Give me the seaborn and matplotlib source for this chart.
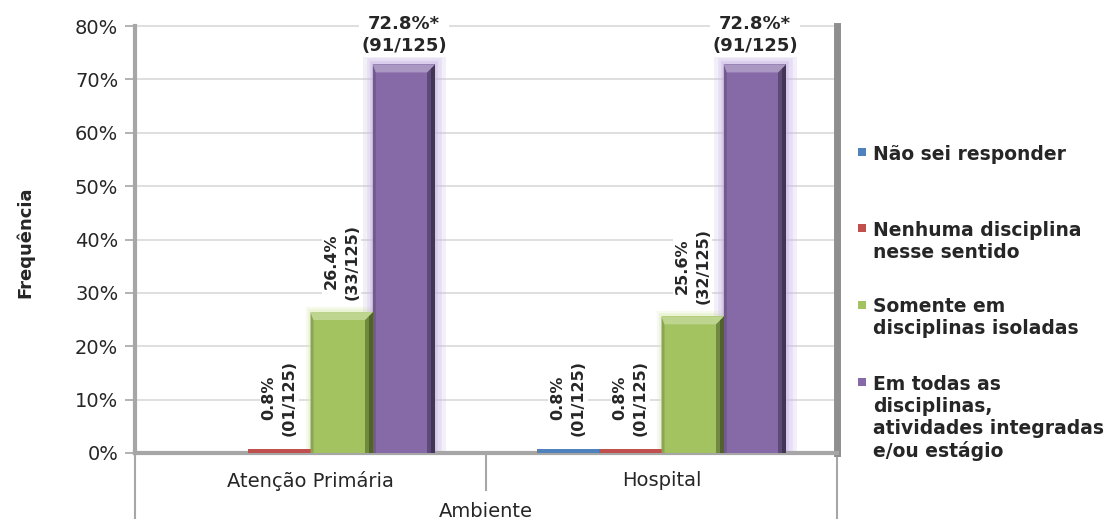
import numpy as np
import pandas as pd
import matplotlib
matplotlib.use("Agg")
import matplotlib.pyplot as plt
import matplotlib.colors as mcolors
from matplotlib.patches import Rectangle, Polygon
import seaborn as sns

# --- data -------------------------------------------------------------
ambientes = ["Atenção Primária", "Hospital"]
respostas = [
    "Não sei responder",
    "Nenhuma disciplina nesse sentido",
    "Somente em disciplinas isoladas",
    "Em todas as disciplinas, atividades integradas e/ou estágio",
]
rotulos_legenda = [
    "Não sei responder",
    "Nenhuma disciplina\nnesse sentido",
    "Somente em\ndisciplinas isoladas",
    "Em todas as\ndisciplinas,\natividades integradas\ne/ou estágio",
]
pct_atencao = [0.0, 0.8, 26.4, 72.8]
pct_hospital = [0.8, 0.8, 25.6, 72.8]
n_atencao = [0, 1, 33, 91]
n_hospital = [1, 1, 32, 91]
total = 125
marca = ["", "", "", "*"]
yticks = [0, 10, 20, 30, 40, 50, 60, 70, 80]
ytick_labels = [f"{v}%" for v in yticks]

# --- style ------------------------------------------------------------
cores = ["#4F81BD", "#C0504D", "#A2C35F", "#866AA8"]
brilho = [None, None, "#DCEDB4", "#CBB8E6"]
camadas_brilho = [None, None, [(8, 0.25), (4, 0.4)], [(15, 0.22), (9, 0.3), (4, 0.45)]]
cinza_eixo = "#A6A6A6"
cor_texto = "#262626"


def mix(c, alvo, t):
    a = np.array(mcolors.to_rgb(c))
    b = np.array(mcolors.to_rgb(alvo))
    return tuple(a * (1 - t) + b * t)


sns.set_theme(style="white")
plt.rcParams["font.family"] = ["DejaVu Sans"]

W, H = 1116, 519
fig = plt.figure(figsize=(W / 100, H / 100), dpi=100)
fig.patch.set_facecolor("white")

x_esq, x_dir = 135, 837
y_zero, y_80 = 453, 26
ymax = 80.3
h_px = (y_zero - y_80) * ymax / 80
ax = fig.add_axes([x_esq / W, 1 - y_zero / H, (x_dir - x_esq) / W, h_px / H])

df = pd.DataFrame({
    "Ambiente": np.repeat(ambientes, len(respostas)),
    "Resposta": respostas * len(ambientes),
    "Percentual": pct_atencao + pct_hospital,
})

sns.barplot(
    data=df, x="Ambiente", y="Percentual", hue="Resposta",
    order=ambientes, hue_order=respostas, palette=cores, saturation=1,
    width=0.71, errorbar=None, legend=False, linewidth=0, ax=ax, zorder=3,
)
ax.set_xlim(-0.5, 1.5)
ax.set_ylim(0, ymax)


def px_para_dados(dx, dy):
    inv = ax.transData.inverted()
    p0 = inv.transform((0, 0))
    p1 = inv.transform((dx, dy))
    return p1[0] - p0[0], p1[1] - p0[1]


pct_por_ambiente = [pct_atencao, pct_hospital]
n_por_ambiente = [n_atencao, n_hospital]

for i, cont in enumerate(ax.containers):
    cor = cores[i]
    for bar in cont:
        bx, bw = bar.get_x(), bar.get_width()
        j = int(round(bx + bw / 2))
        v = pct_por_ambiente[j][i]
        n = n_por_ambiente[j][i]
        if v <= 0:
            continue
        cx = bx + bw / 2

        # soft halo around the larger bars
        if brilho[i] is not None:
            for lw, a in camadas_brilho[i]:
                ax.add_patch(Rectangle((bx, 0), bw, v, fc=brilho[i], ec=brilho[i],
                                       lw=lw, alpha=a, zorder=2.5, joinstyle="miter"))

        # bevelled faces
        altura_px = ax.transData.transform((0, v))[1] - ax.transData.transform((0, 0))[1]
        if altura_px > 14:
            dxr, dyt = px_para_dados(8, 8)
            dxr2, _ = px_para_dados(4, 0)
            dxl, _ = px_para_dados(3, 0)
            r = bx + bw
            ax.add_patch(Polygon([(r, v), (r, 0), (r - dxr, 0), (r - dxr, v - dyt)],
                                 closed=True, fc=mix(cor, "black", 0.3), ec="none", zorder=3.1))
            ax.add_patch(Polygon([(r, v), (r, 0), (r - dxr2, 0), (r - dxr2, v - dyt / 2)],
                                 closed=True, fc=mix(cor, "black", 0.5), ec="none", zorder=3.2))
            ax.add_patch(Polygon([(bx, v), (bx + dxl, v - dyt), (bx + dxl, 0), (bx, 0)],
                                 closed=True, fc=mix(cor, "black", 0.15), ec="none", zorder=3.1))
            ax.add_patch(Polygon([(bx, v), (r, v), (r - dxr, v - dyt), (bx + dxl, v - dyt)],
                                 closed=True, fc=mix(cor, "white", 0.3), ec="none", zorder=3.3))

        texto = f"{v:.1f}%{marca[i]}\n({n:02d}/{total})"
        caixa = dict(boxstyle="square,pad=0.12", fc="white", ec="none")
        if v > 50:
            ax.annotate(texto, (cx, v), xytext=(0, 7), textcoords="offset points",
                        ha="center", va="bottom", fontsize=13, fontweight="bold",
                        color=cor_texto, linespacing=1.3, bbox=caixa, zorder=6)
        else:
            ax.annotate(texto, (cx, v), xytext=(0, 9), textcoords="offset points",
                        ha="center", va="bottom", rotation=90, multialignment="center",
                        fontsize=11.5, fontweight="bold", color=cor_texto,
                        linespacing=1.45, bbox=caixa, zorder=6)

# --- axes cosmetics ---------------------------------------------------
ax.set_yticks(yticks, ytick_labels)
ax.yaxis.grid(True, color="#D9D9D9", lw=1.2)
ax.xaxis.grid(False)
ax.set_axisbelow(True)
ax.tick_params(axis="y", left=True, length=7, width=1.2, color=cinza_eixo, pad=5,
               labelsize=14, labelcolor=cor_texto)
ax.tick_params(axis="x", bottom=False, length=0, pad=13, labelsize=14, labelcolor=cor_texto)
ax.set_ylabel("")
ax.set_xlabel("Ambiente", fontsize=14, color=cor_texto, labelpad=8)

ax.spines["top"].set_visible(False)
ax.spines["left"].set_color(cinza_eixo)
ax.spines["left"].set_linewidth(3)
ax.spines["bottom"].set_color(cinza_eixo)
ax.spines["bottom"].set_linewidth(3)
ax.spines["right"].set_color("#8F8F8F")
ax.spines["right"].set_linewidth(5)
ax.spines["right"].set_bounds(0, 80)
ax.spines["left"].set_bounds(0, 80)

# category frame below the plot area
trans = ax.get_xaxis_transform()
fundo = (H - y_zero) / h_px
for xv, comp in [(-0.5, fundo), (0.5, 38 / h_px), (1.5, fundo)]:
    ax.plot([xv, xv], [0, -comp], transform=trans, color=cinza_eixo, lw=1.5,
            clip_on=False, zorder=1, solid_capstyle="butt")

fig.text(25 / W, 1 - 242 / H, "Frequência", rotation=90, ha="center", va="center",
         fontsize=13, fontweight="bold", color=cor_texto)

# --- legend -----------------------------------------------------------
centros_px = [152, 228, 305, 382]
tam_px = 8
for cor, rotulo, yc in zip(cores, rotulos_legenda, centros_px):
    fig.patches.append(Rectangle((858 / W, 1 - (yc + tam_px / 2) / H), tam_px / W, tam_px / H,
                                 transform=fig.transFigure, fc=cor, ec="none"))
    fig.text(873 / W, 1 - (yc - 7.5) / H, rotulo, ha="left", va="top",
             fontsize=13.5, fontweight="bold", color=cor_texto, linespacing=1.2)

fig.savefig("out.png", dpi=100, facecolor="white")
